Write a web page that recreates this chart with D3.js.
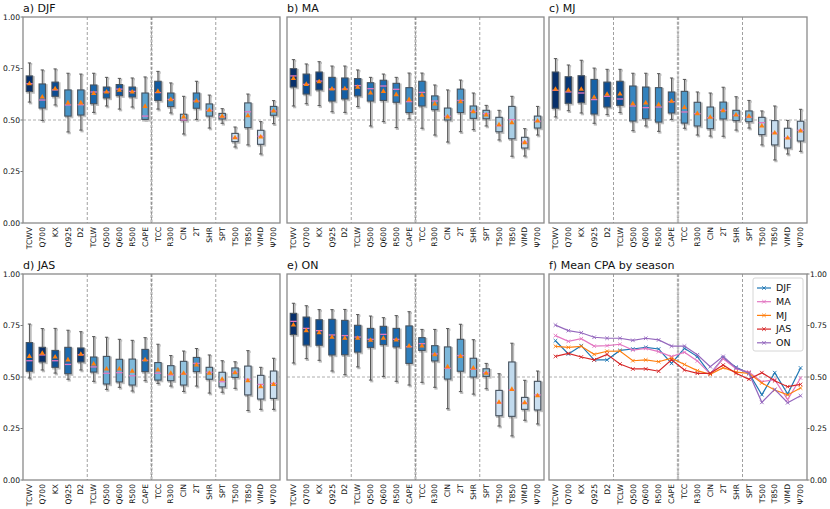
<!DOCTYPE html>
<html><head><meta charset="utf-8">
<script src="https://cdn.jsdelivr.net/npm/d3@7"></script>
<style>
body{margin:0;background:#fff}
svg{display:block}
text{font-family:"DejaVu Sans",sans-serif;fill:#111}
</style>
</head><body>
<svg id="chart" width="830" height="509"></svg>
<script>
// ---------------- DATA ----------------
const categories = ["TCWV","Q700","KX","Q925","D2","TCLW","Q500","Q600","R500","CAPE","TCC","R300","CIN","2T","SHR","SPT","T500","T850","VIMD","Ψ700"];
const groupEnds = ["D2","CAPE","SHR"];
const seasons = ["DJF","MA","MJ","JAS","ON"];
const panelTitles = ["a) DJF","b) MA","c) MJ","d) JAS","e) ON","f) Mean CPA by season"];
const yTicks = [0, 0.25, 0.5, 0.75, 1.0];
const refLevel = 0.5;

// DJF
const djfLow  = [0.587,0.498,0.573,0.442,0.451,0.537,0.568,0.553,0.563,0.502,0.553,0.534,0.432,0.503,0.461,0.484,0.369,0.379,0.335,0.482];
const djfQ1   = [0.638,0.558,0.615,0.519,0.524,0.579,0.607,0.618,0.612,0.503,0.595,0.565,0.498,0.557,0.519,0.505,0.395,0.463,0.382,0.523];
const djfMed  = [0.676,0.597,0.646,0.573,0.574,0.636,0.636,0.650,0.639,0.519,0.633,0.600,0.500,0.592,0.547,0.516,0.413,0.540,0.421,0.544];
const djfQ3   = [0.714,0.675,0.684,0.646,0.646,0.670,0.660,0.672,0.660,0.631,0.688,0.631,0.528,0.631,0.578,0.532,0.435,0.583,0.450,0.566];
const djfHigh = [0.777,0.743,0.748,0.727,0.723,0.727,0.707,0.702,0.704,0.709,0.736,0.680,0.615,0.688,0.621,0.555,0.466,0.626,0.492,0.594];
const djfMean = [0.676,0.612,0.652,0.583,0.583,0.629,0.636,0.644,0.636,0.566,0.639,0.599,0.515,0.592,0.547,0.518,0.414,0.521,0.417,0.544];

// MA
const maLow  = [0.568,0.579,0.570,0.540,0.537,0.565,0.471,0.492,0.463,0.506,0.460,0.427,0.393,0.443,0.453,0.471,0.403,0.324,0.325,0.427];
const maQ1   = [0.660,0.626,0.646,0.592,0.602,0.617,0.592,0.595,0.586,0.536,0.568,0.550,0.500,0.536,0.508,0.506,0.443,0.409,0.364,0.461];
const maMed  = [0.714,0.673,0.689,0.650,0.650,0.667,0.652,0.665,0.649,0.589,0.634,0.592,0.518,0.595,0.542,0.531,0.472,0.502,0.393,0.494];
const maQ3   = [0.749,0.723,0.733,0.707,0.704,0.701,0.681,0.693,0.678,0.657,0.688,0.617,0.558,0.650,0.568,0.547,0.513,0.566,0.416,0.519];
const maHigh = [0.793,0.772,0.783,0.762,0.762,0.743,0.707,0.723,0.707,0.728,0.728,0.670,0.646,0.694,0.631,0.571,0.547,0.615,0.458,0.566];
const maMean = [0.701,0.673,0.686,0.650,0.652,0.659,0.631,0.639,0.623,0.599,0.620,0.578,0.515,0.589,0.540,0.524,0.477,0.487,0.390,0.495];

// MJ
const mjLow  = [0.515,0.545,0.534,0.484,0.526,0.536,0.448,0.471,0.445,0.503,0.460,0.427,0.422,0.421,0.451,0.461,0.379,0.306,0.335,0.348];
const mjQ1   = [0.557,0.581,0.584,0.529,0.563,0.571,0.495,0.506,0.490,0.534,0.485,0.471,0.458,0.505,0.497,0.492,0.429,0.379,0.364,0.398];
const mjMed  = [0.644,0.636,0.631,0.599,0.615,0.602,0.568,0.560,0.563,0.589,0.539,0.531,0.511,0.547,0.523,0.513,0.487,0.437,0.414,0.450];
const mjQ3   = [0.733,0.710,0.715,0.697,0.684,0.688,0.665,0.660,0.657,0.636,0.639,0.586,0.563,0.587,0.547,0.544,0.513,0.497,0.460,0.494];
const mjHigh = [0.798,0.767,0.790,0.752,0.746,0.746,0.727,0.727,0.725,0.704,0.697,0.636,0.631,0.659,0.613,0.595,0.544,0.568,0.498,0.552];
const mjMean = [0.649,0.644,0.649,0.610,0.625,0.626,0.579,0.583,0.574,0.591,0.561,0.531,0.513,0.545,0.524,0.518,0.471,0.437,0.413,0.447];

// JAS
const jasLow  = [0.495,0.534,0.519,0.489,0.534,0.479,0.440,0.450,0.432,0.482,0.469,0.456,0.430,0.456,0.422,0.426,0.445,0.337,0.343,0.343];
const jasQ1   = [0.528,0.573,0.547,0.516,0.573,0.524,0.466,0.476,0.461,0.526,0.485,0.482,0.461,0.526,0.489,0.452,0.498,0.413,0.393,0.396];
const jasMed  = [0.579,0.607,0.579,0.561,0.608,0.549,0.518,0.521,0.506,0.581,0.518,0.510,0.515,0.566,0.523,0.477,0.523,0.489,0.464,0.469];
const jasQ3   = [0.667,0.644,0.629,0.644,0.641,0.597,0.600,0.586,0.587,0.634,0.570,0.555,0.576,0.595,0.547,0.523,0.544,0.553,0.508,0.529];
const jasHigh = [0.757,0.735,0.736,0.727,0.720,0.696,0.693,0.683,0.678,0.691,0.659,0.604,0.626,0.638,0.607,0.579,0.574,0.628,0.547,0.591];
const jasMean = [0.600,0.615,0.597,0.583,0.610,0.563,0.539,0.539,0.528,0.583,0.534,0.518,0.518,0.558,0.518,0.489,0.521,0.482,0.453,0.464];

// ON
const onLow  = [0.568,0.589,0.581,0.529,0.511,0.549,0.485,0.503,0.479,0.461,0.474,0.450,0.346,0.429,0.417,0.443,0.262,0.214,0.290,0.272];
const onQ1   = [0.706,0.655,0.654,0.607,0.608,0.621,0.644,0.657,0.646,0.566,0.629,0.578,0.490,0.528,0.500,0.503,0.312,0.309,0.343,0.340];
const onMed  = [0.770,0.736,0.725,0.704,0.701,0.694,0.683,0.707,0.683,0.647,0.662,0.612,0.542,0.604,0.537,0.521,0.374,0.437,0.374,0.413];
const onQ3   = [0.809,0.791,0.778,0.780,0.775,0.751,0.736,0.746,0.736,0.748,0.691,0.652,0.646,0.683,0.591,0.540,0.435,0.573,0.401,0.479];
const onHigh = [0.858,0.846,0.827,0.827,0.828,0.803,0.796,0.788,0.798,0.817,0.731,0.731,0.735,0.756,0.681,0.566,0.516,0.664,0.484,0.529];
const onMean = [0.752,0.725,0.715,0.693,0.688,0.688,0.678,0.688,0.680,0.650,0.650,0.608,0.550,0.600,0.544,0.518,0.377,0.440,0.375,0.409];

// ---------------- BUILD ----------------
const stats = {
  DJF: {low: djfLow, q1: djfQ1, med: djfMed, q3: djfQ3, high: djfHigh, mean: djfMean},
  MA:  {low: maLow,  q1: maQ1,  med: maMed,  q3: maQ3,  high: maHigh,  mean: maMean},
  MJ:  {low: mjLow,  q1: mjQ1,  med: mjMed,  q3: mjQ3,  high: mjHigh,  mean: mjMean},
  JAS: {low: jasLow, q1: jasQ1, med: jasMed, q3: jasQ3, high: jasHigh, mean: jasMean},
  ON:  {low: onLow,  q1: onQ1,  med: onMed,  q3: onQ3,  high: onHigh,  mean: onMean}
};
const seasonColors = {DJF:"#1f77b4", MA:"#e377c2", MJ:"#ff7f0e", JAS:"#d62728", ON:"#9467bd"};

const svg = d3.select("#chart");
const colX = [23, 287, 549];
const rowY = [17, 274];
const W = 257, H = 206;

function makePanel(idx) {
  const col = idx % 3, row = Math.floor(idx / 3);
  const left = colX[col], top = rowY[row];
  const w = col === 2 ? W + 1 : W;
  const x = d3.scalePoint().domain(categories).range([left, left + w]).padding(0.5);
  const y = d3.scaleLinear().domain([0, 1]).range([top + H, top]);
  const g = svg.append("g");

  g.append("text").attr("x", left).attr("y", top - 5)
    .attr("font-size", 11).text(panelTitles[idx]);

  g.append("line").attr("x1", left).attr("x2", left + w)
    .attr("y1", y(refLevel)).attr("y2", y(refLevel))
    .attr("stroke", "#999").attr("stroke-width", 0.8).attr("stroke-dasharray", "3,2");
  groupEnds.forEach((c, i) => {
    const ci = categories.indexOf(c);
    const sx = (x(categories[ci]) + x(categories[ci + 1])) / 2;
    if (i === 1) {
      g.append("line").attr("x1", sx).attr("x2", sx).attr("y1", top).attr("y2", top + H)
        .attr("stroke", "#c4c4c4").attr("stroke-width", 2.4).attr("stroke-dasharray", "3,1.5");
    }
    g.append("line").attr("x1", sx).attr("x2", sx).attr("y1", top).attr("y2", top + H)
      .attr("stroke", "#888").attr("stroke-width", 0.8).attr("stroke-dasharray", "3,2");
  });

  const xl = g.append("g");
  categories.forEach(c => {
    xl.append("text")
      .attr("transform", `translate(${x(c)},${top + H + 4}) rotate(-90)`)
      .attr("text-anchor", "end").attr("dy", "0.35em")
      .attr("font-size", 7.6).text(c);
  });

  if (col === 0 || idx === 5) {
    const onRight = idx === 5;
    yTicks.forEach(v => {
      const tx = onRight ? left + w : left;
      g.append("line").attr("x1", tx).attr("x2", onRight ? tx + 2.5 : tx - 2.5)
        .attr("y1", y(v)).attr("y2", y(v)).attr("stroke", "#555").attr("stroke-width", 0.8);
      g.append("text").attr("x", onRight ? tx + 3 : tx - 3).attr("y", y(v)).attr("dy", "0.35em")
        .attr("text-anchor", onRight ? "start" : "end").attr("font-size", 7.6)
        .text(d3.format(".2f")(v));
    });
  }
  return {g, x, y, left, top, w};
}

function drawFrame(p) {
  p.g.append("rect").attr("x", p.left).attr("y", p.top).attr("width", p.w).attr("height", H)
    .attr("fill", "none").attr("stroke", "#8a8a8a").attr("stroke-width", 1.3);
}

seasons.forEach((s, idx) => {
  const p = makePanel(idx);
  const d = stats[s];
  const bw = p.x.step() * 0.5;
  const ext = d3.extent(d.mean);
  const shade = m => d3.interpolateBlues(0.2 + 0.8 * Math.pow((m - ext[0]) / (ext[1] - ext[0]), 1.5));

  const sh = p.g.append("g").attr("transform", "translate(1.2,1.2)");
  const mg = p.g.append("g");
  categories.forEach((c, i) => {
    const cx = p.x(c);
    [[sh, "#bdbdbd", "#c8c8c8", 2.2], [mg, "#555", null, 1]].forEach(([layer, col, fill, sw]) => {
      layer.append("line").attr("x1", cx).attr("x2", cx).attr("y1", p.y(d.high[i])).attr("y2", p.y(d.q3[i]))
        .attr("stroke", col).attr("stroke-width", sw);
      layer.append("line").attr("x1", cx).attr("x2", cx).attr("y1", p.y(d.q1[i])).attr("y2", p.y(d.low[i]))
        .attr("stroke", col).attr("stroke-width", sw);
      [d.high[i], d.low[i]].forEach(v => {
        layer.append("line").attr("x1", cx - bw / 4).attr("x2", cx + bw / 4)
          .attr("y1", p.y(v)).attr("y2", p.y(v)).attr("stroke", col).attr("stroke-width", sw);
      });
      layer.append("rect").attr("x", cx - bw / 2).attr("y", p.y(d.q3[i]))
        .attr("width", bw).attr("height", Math.max(0.5, p.y(d.q1[i]) - p.y(d.q3[i])))
        .attr("fill", fill || shade(d.mean[i]))
        .attr("stroke", fill ? "#c0c0c0" : "#46525e").attr("stroke-width", fill ? 2 : 1.1);
    });
    mg.append("line").attr("x1", cx - bw / 2).attr("x2", cx + bw / 2)
      .attr("y1", p.y(d.med[i])).attr("y2", p.y(d.med[i]))
      .attr("stroke", "#e377c2").attr("stroke-width", 1.3);
    mg.append("path").attr("d", d3.symbol(d3.symbolTriangle, 12)())
      .attr("transform", `translate(${cx},${p.y(d.mean[i])})`)
      .attr("fill", "#ff7f0e");
  });
  drawFrame(p);
});

{
  const p = makePanel(5);
  const line = d3.line().x((v, i) => p.x(categories[i])).y(v => p.y(v));
  seasons.forEach(s => {
    const col = seasonColors[s];
    p.g.append("path").datum(stats[s].mean).attr("d", line)
      .attr("fill", "none").attr("stroke", col).attr("stroke-width", 1.2);
    stats[s].mean.forEach((v, i) => {
      p.g.append("path").attr("d", "M-1.8,-1.8L1.8,1.8M-1.8,1.8L1.8,-1.8")
        .attr("transform", `translate(${p.x(categories[i])},${p.y(v)})`)
        .attr("stroke", col).attr("stroke-width", 0.9);
    });
  });
  drawFrame(p);
  const lx = 753, ly = 278;
  const lg = p.g.append("g");
  lg.append("rect").attr("x", lx).attr("y", ly).attr("width", 50).attr("height", 73).attr("rx", 2)
    .attr("fill", "#fff").attr("fill-opacity", 0.85).attr("stroke", "#ccc").attr("stroke-width", 0.8);
  seasons.forEach((s, i) => {
    const yy = ly + 10 + i * 13.7;
    lg.append("line").attr("x1", lx + 4).attr("x2", lx + 18).attr("y1", yy).attr("y2", yy)
      .attr("stroke", seasonColors[s]).attr("stroke-width", 1.2);
    lg.append("path").attr("d", "M-1.8,-1.8L1.8,1.8M-1.8,1.8L1.8,-1.8")
      .attr("transform", `translate(${lx + 11},${yy})`).attr("stroke", seasonColors[s]).attr("stroke-width", 0.9);
    lg.append("text").attr("x", lx + 23).attr("y", yy).attr("dy", "0.35em")
      .attr("font-size", 9.5).text(s);
  });
}
</script>
</body></html>
